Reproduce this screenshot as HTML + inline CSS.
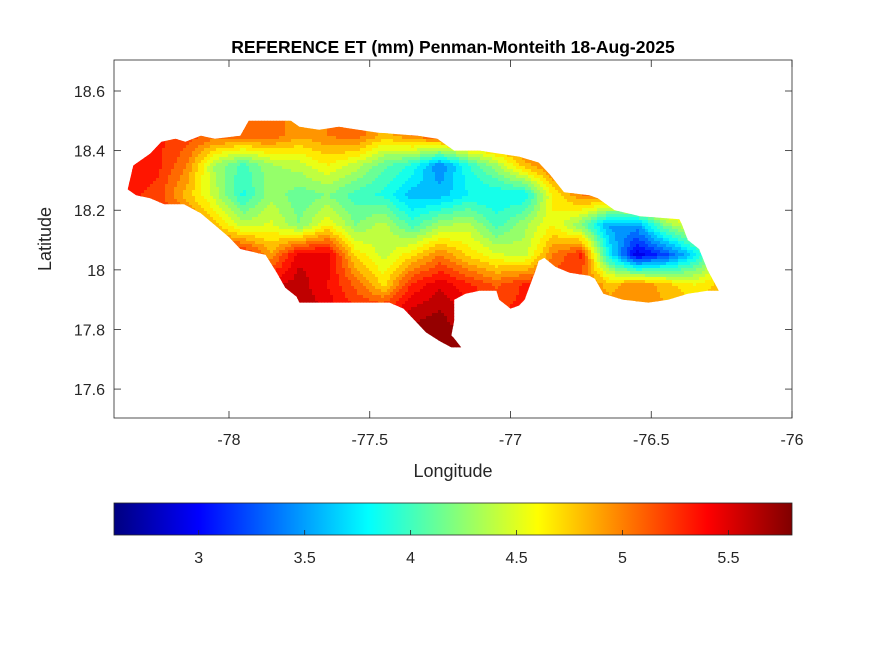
<!DOCTYPE html>
<html><head><meta charset="utf-8"><style>
body{margin:0;background:#fff}
svg text{font-family:"Liberation Sans",Arial,sans-serif;fill:#262626}
</style></head><body>
<svg id="fig" width="875" height="656" viewBox="0 0 875 656" xmlns="http://www.w3.org/2000/svg">
<rect width="875" height="656" fill="#fff"/>
<defs>
<clipPath id="island"><polygon id="islandPoly" points=""/></clipPath>
<linearGradient id="jet" x1="0" x2="1" y1="0" y2="0">
<stop offset="0" stop-color="#000080"/><stop offset="0.125" stop-color="#0000ff"/><stop offset="0.375" stop-color="#00ffff"/><stop offset="0.625" stop-color="#ffff00"/><stop offset="0.875" stop-color="#ff0000"/><stop offset="1" stop-color="#800000"/>
</linearGradient>
</defs>
<rect x="114" y="60" width="678" height="358" fill="#fff" stroke="#262626" stroke-width="0.8"/>
<g id="map" clip-path="url(#island)"></g>
<g id="axes"></g>
<text x="453" y="53" text-anchor="middle" font-size="17.5" font-weight="bold" style="fill:#000">REFERENCE ET (mm) Penman-Monteith 18-Aug-2025</text>
<text x="453" y="477" text-anchor="middle" font-size="18">Longitude</text>
<text transform="translate(51,239) rotate(-90)" text-anchor="middle" font-size="18">Latitude</text>
<rect x="114" y="503" width="678" height="32" fill="url(#jet)" stroke="#262626" stroke-width="0.8"/>
<g id="cbaxis"></g>
</svg>
<script>
const xTicks=[-78,-77.5,-77,-76.5,-76];
const xTickLabels=["-78","-77.5","-77","-76.5","-76"];
const yTicks=[17.6,17.8,18,18.2,18.4,18.6];
const yTickLabels=["17.6","17.8","18","18.2","18.4","18.6"];
const cbTicks=[3,3.5,4,4.5,5,5.5];
const cbTickLabels=["3","3.5","4","4.5","5","5.5"];
const gridLons=[-78.35,-78.25,-78.15,-78.05,-77.95,-77.85,-77.75,-77.65,-77.55,-77.45,-77.35,-77.25,-77.15,-77.05,-76.95,-76.85,-76.75,-76.65,-76.55,-76.45,-76.35,-76.25];
const gridLats=[18.45,18.35,18.25,18.15,18.05,17.95,17.85,17.75];
const etRow0=[5.4,5.3,5.2,5.1,5.1,5.1,4.9,5.0,5.1,4.8,5.0,5.2,5.2,5.2,5.2,5.2,5.1,5.1,5.1,5.1,5.1,5.1];
const etRow1=[5.4,5.3,5.0,4.3,4.0,4.3,4.4,4.6,4.4,4.1,3.9,3.4,3.9,4.3,4.8,5.1,5.1,5.1,5.1,5.1,5.1,5.1];
const etRow2=[5.3,5.2,4.8,4.4,3.9,4.3,4.1,4.2,4.0,3.9,3.6,3.6,3.8,3.8,3.8,4.6,5.0,5.1,5.2,5.2,5.1,5.1];
const etRow3=[5.3,5.3,5.2,4.8,4.4,4.5,4.2,4.6,4.2,4.4,4.0,4.3,4.4,4.0,4.3,4.6,4.2,3.5,3.5,4.2,4.6,5.0];
const etRow4=[5.4,5.4,5.4,5.3,5.4,4.9,5.5,5.5,4.7,4.4,4.7,5.0,4.7,4.5,4.4,5.0,5.3,3.8,2.9,3.2,3.7,4.4];
const etRow5=[5.4,5.4,5.4,5.5,5.5,5.5,5.6,5.4,5.1,4.7,5.3,5.5,5.3,5.1,5.3,5.3,5.1,4.8,5.0,4.8,4.6,4.8];
const etRow6=[5.5,5.5,5.5,5.6,5.6,5.6,5.7,5.5,5.3,5.4,5.6,5.7,5.5,5.3,5.3,5.2,5.1,5.0,5.0,4.9,4.9,4.9];
const etRow7=[5.6,5.6,5.6,5.7,5.7,5.7,5.7,5.6,5.6,5.7,5.8,5.8,5.7,5.5,5.4,5.3,5.2,5.1,5.1,5.1,5.1,5.1];
const etRows=[etRow0,etRow1,etRow2,etRow3,etRow4,etRow5,etRow6,etRow7];
const outlineLonLat=[[-78.36,18.27],[-78.34,18.35],[-78.28,18.39],[-78.24,18.43],[-78.19,18.44],[-78.155,18.43],[-78.1,18.45],[-78.05,18.44],[-77.96,18.45],[-77.93,18.50],[-77.78,18.50],[-77.75,18.48],[-77.68,18.47],[-77.61,18.48],[-77.47,18.46],[-77.33,18.45],[-77.26,18.44],[-77.2,18.40],[-77.11,18.40],[-77.04,18.39],[-76.97,18.38],[-76.9,18.36],[-76.86,18.32],[-76.81,18.26],[-76.72,18.25],[-76.69,18.24],[-76.63,18.20],[-76.54,18.18],[-76.4,18.17],[-76.39,18.15],[-76.37,18.10],[-76.33,18.07],[-76.3,18.0],[-76.26,17.93],[-76.3,17.93],[-76.37,17.92],[-76.44,17.90],[-76.51,17.89],[-76.6,17.90],[-76.67,17.92],[-76.7,17.97],[-76.72,17.98],[-76.79,17.99],[-76.84,18.01],[-76.88,18.04],[-76.9,18.03],[-76.91,18.0],[-76.93,17.95],[-76.95,17.90],[-76.97,17.88],[-77.0,17.87],[-77.04,17.90],[-77.05,17.93],[-77.11,17.93],[-77.16,17.92],[-77.2,17.90],[-77.2,17.83],[-77.21,17.78],[-77.2,17.77],[-77.175,17.74],[-77.21,17.74],[-77.25,17.76],[-77.3,17.79],[-77.34,17.83],[-77.38,17.87],[-77.43,17.89],[-77.53,17.89],[-77.64,17.89],[-77.75,17.89],[-77.76,17.91],[-77.8,17.94],[-77.83,17.99],[-77.87,18.05],[-77.96,18.07],[-78.0,18.11],[-78.05,18.15],[-78.1,18.19],[-78.16,18.22],[-78.23,18.22],[-78.28,18.24],[-78.33,18.25]];

const NS="http://www.w3.org/2000/svg";
const X0=114,X1=792,LON0=-78.4085,LON1=-76;
const Y0=60,Y1=418,LAT0=18.704,LAT1=17.503;
function sx(lon){return X0+(lon-LON0)/(LON1-LON0)*(X1-X0);}
function sy(lat){return Y0+(LAT0-lat)/(LAT0-LAT1)*(Y1-Y0);}
const CB0=2.6,CB1=5.8;
function cx(v){return X0+(v-CB0)/(CB1-CB0)*(X1-X0);}
function jet(t){
  t=Math.max(0,Math.min(1,t));
  const r=Math.max(0,Math.min(1,1.5-Math.abs(4*t-3)));
  const g=Math.max(0,Math.min(1,1.5-Math.abs(4*t-2)));
  const b=Math.max(0,Math.min(1,1.5-Math.abs(4*t-1)));
  return "rgb("+Math.round(r*255)+","+Math.round(g*255)+","+Math.round(b*255)+")";
}
function mk(tag,attrs,parent){const e=document.createElementNS(NS,tag);for(const k in attrs)e.setAttribute(k,attrs[k]);parent.appendChild(e);return e;}

document.getElementById('islandPoly').setAttribute('points',outlineLonLat.map(p=>sx(p[0]).toFixed(1)+","+sy(p[1]).toFixed(1)).join(" "));

function sample(lon,lat){
  const dl=gridLons[1]-gridLons[0], dt=gridLats[0]-gridLats[1];
  let fi=(lon-gridLons[0])/dl, fj=(gridLats[0]-lat)/dt;
  fi=Math.max(0,Math.min(gridLons.length-1.001,fi));
  fj=Math.max(0,Math.min(gridLats.length-1.001,fj));
  const i=Math.floor(fi),j=Math.floor(fj),u=fi-i,w=fj-j;
  const a=etRows[j][i],b=etRows[j][i+1],c=etRows[j+1][i],d=etRows[j+1][i+1];
  return (a*(1-u)+b*u)*(1-w)+(c*(1-u)+d*u)*w;
}
const map=document.getElementById('map');
const step=3;
const levels=24;
for(let py=118;py<356;py+=step){
  for(let px=120;px<728;px+=step){
    const lon=LON0+(px+step/2-X0)/(X1-X0)*(LON1-LON0);
    const lat=LAT0-(py+step/2-Y0)/(Y1-Y0)*(LAT0-LAT1);
    let v=sample(lon,lat);
    let t=(v-CB0)/(CB1-CB0);
    t=Math.floor(t*levels)/levels+0.5/levels;
    const r=mk('rect',{x:px,y:py,width:step+0.5,height:step+0.5,fill:jet(t)},map);
    
    
  }
}
const axes=document.getElementById('axes');
xTicks.forEach((v,i)=>{
  const x=sx(v);
  const t1=mk('line',{x1:x,x2:x,y1:418,y2:411,stroke:'#262626','stroke-width':0.8},axes);
  
  
  const t2=mk('line',{x1:x,x2:x,y1:60,y2:67,stroke:'#262626','stroke-width':0.8},axes);
  
  
  const tx=mk('text',{x:x,y:445,'text-anchor':'middle','font-size':16},axes);
  tx.textContent=xTickLabels[i];
  
  
});
yTicks.forEach((v,i)=>{
  const y=sy(v);
  const t1=mk('line',{x1:114,x2:121,y1:y,y2:y,stroke:'#262626','stroke-width':0.8},axes);
  
  
  const t2=mk('line',{x1:792,x2:785,y1:y,y2:y,stroke:'#262626','stroke-width':0.8},axes);
  
  
  const tx=mk('text',{x:105,y:y+6,'text-anchor':'end','font-size':16},axes);
  tx.textContent=yTickLabels[i];
  
  
});
const cb=document.getElementById('cbaxis');
cbTicks.forEach((v,i)=>{
  const x=cx(v);
  const t1=mk('line',{x1:x,x2:x,y1:535,y2:530,stroke:'#262626','stroke-width':0.8},cb);
  
  
  const tx=mk('text',{x:x,y:563,'text-anchor':'middle','font-size':16},cb);
  tx.textContent=cbTickLabels[i];
  
  
});
</script>
</body></html>
